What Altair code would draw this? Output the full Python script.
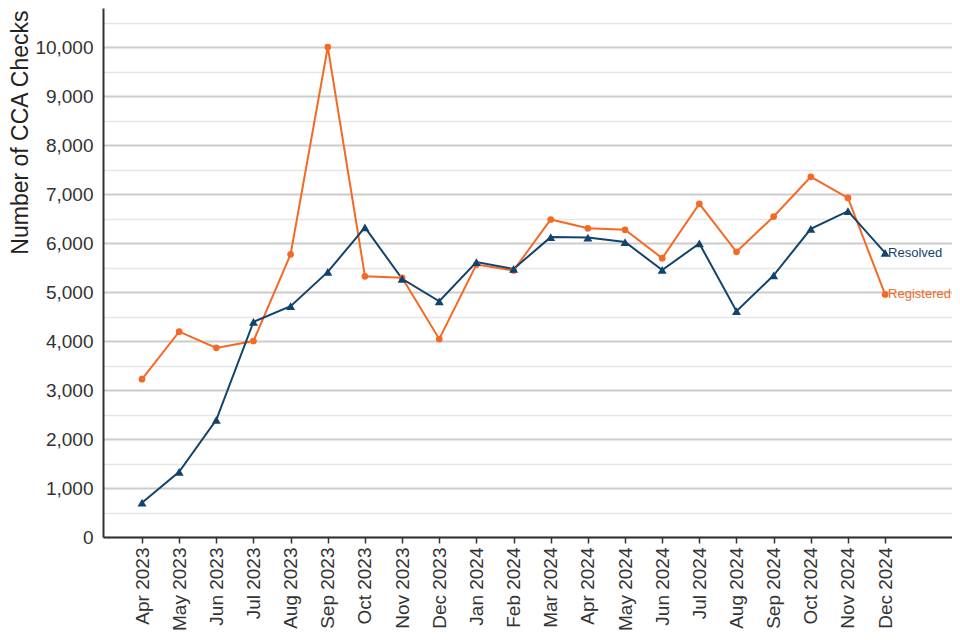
import altair as alt
import pandas as pd

months = ["Apr 2023", "May 2023", "Jun 2023", "Jul 2023", "Aug 2023", "Sep 2023",
          "Oct 2023", "Nov 2023", "Dec 2023", "Jan 2024", "Feb 2024", "Mar 2024",
          "Apr 2024", "May 2024", "Jun 2024", "Jul 2024", "Aug 2024", "Sep 2024",
          "Oct 2024", "Nov 2024", "Dec 2024"]
registered = [3220, 4190, 3860, 4000, 5770, 10000, 5320, 5290, 4040, 5560, 5440,
              6480, 6300, 6270, 5690, 6800, 5820, 6540, 7350, 6920, 4950]
resolved = [700, 1330, 2390, 4390, 4710, 5410, 6320, 5270, 4810, 5610, 5470,
            6120, 6110, 6020, 5450, 5990, 4610, 5340, 6290, 6650, 5800]
series_names = ["Registered", "Resolved"]
series_colors = ["#F46A25", "#12436D"]
series_shapes = ["circle", "triangle-up"]
series_sizes = [45, 80]
y_ticks = list(range(0, 10501, 500))

rows = []
for i, m in enumerate(months):
    rows.append({"idx": i, "month": m, "series": "Registered", "value": registered[i]})
    rows.append({"idx": i, "month": m, "series": "Resolved", "value": resolved[i]})
df = pd.DataFrame(rows)

labels_js = "[" + ",".join("'" + m + "'" for m in months) + "]"
font = "Liberation Sans"

x = alt.X("idx:Q",
          scale=alt.Scale(domain=[-1.05, 21.8], nice=False, zero=False),
          axis=alt.Axis(values=list(range(len(months))),
                        labelExpr=labels_js + "[datum.value]",
                        labelAngle=-90, title=None, grid=False,
                        domainColor="#333333", domainWidth=2,
                        tickColor="#333333", tickWidth=1.5, tickSize=6,
                        labelPadding=4, labelFontSize=19, labelColor="#333333",
                        labelFont=font))
y = alt.Y("value:Q",
          scale=alt.Scale(domain=[0, 10796], nice=False),
          axis=alt.Axis(values=y_ticks,
                        labelExpr="datum.value % 1000 === 0 ? format(datum.value, ',') : ''",
                        title="Number of CCA Checks", titleFontSize=23,
                        titleFontWeight="normal", titleFont=font, titleColor="#222222",
                        titleAngle=-90, titleAlign="right", titleBaseline="top",
                        titleX=-94, titleY=2,
                        gridColor=alt.condition("datum.value % 1000 === 0",
                                                alt.value("#cccccc"), alt.value("#e6e6e6")),
                        gridWidth=alt.condition("datum.value % 1000 === 0",
                                                alt.value(2), alt.value(1.5)),
                        ticks=False, domainColor="#333333", domainWidth=2,
                        labelPadding=10, labelFontSize=19, labelColor="#333333",
                        labelFont=font))
color = alt.Color("series:N", scale=alt.Scale(domain=series_names, range=series_colors), legend=None)

base = alt.Chart(df)
lines = base.mark_line(strokeWidth=2).encode(x=x, y=y, color=color,
                                             order=alt.Order("idx:Q"))
points = base.mark_point(filled=True, opacity=1).encode(
    x=x, y=y, color=color,
    shape=alt.Shape("series:N", scale=alt.Scale(domain=series_names, range=series_shapes), legend=None),
    size=alt.Size("series:N", scale=alt.Scale(domain=series_names, range=series_sizes), legend=None),
)
labels = base.transform_filter(alt.datum.idx == len(months) - 1).mark_text(
    align="left", baseline="middle", dx=3, fontSize=13, font=font
).encode(x=x, y=y, color=color, text="series:N")

chart = alt.layer(lines, points, labels).properties(
    width=849, height=529,
    autosize=alt.AutoSizeParams(type="none"),
    padding={"left": 95, "top": 0, "right": 0, "bottom": 100},
).configure_view(stroke=None)

chart.save("out.html", embed_options={"renderer": "svg", "actions": False})
